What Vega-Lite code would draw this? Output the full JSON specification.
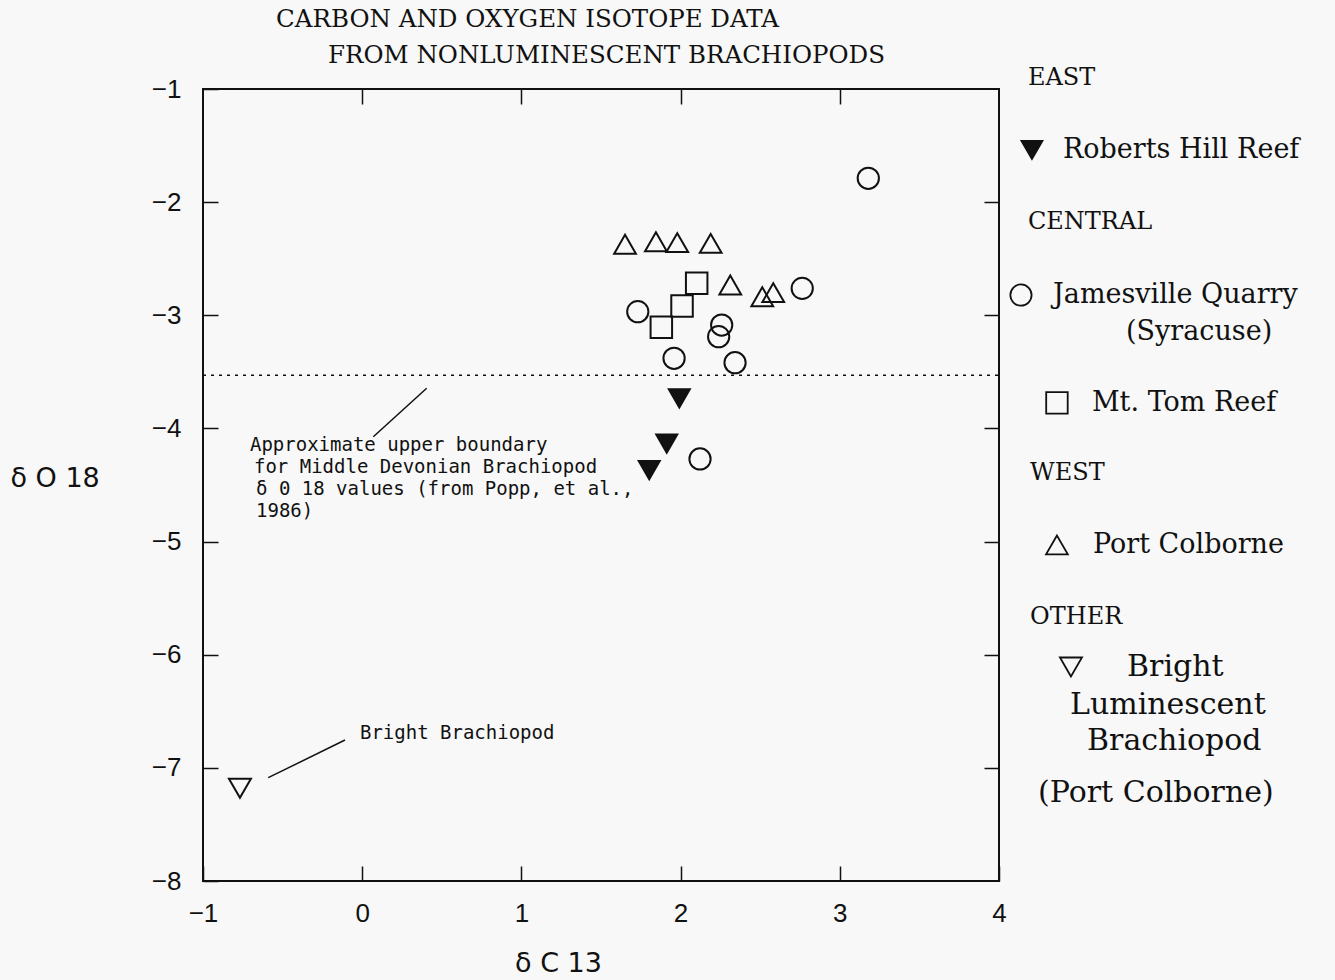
{
  "$schema": "https://vega.github.io/schema/vega-lite/v6.json",
  "width": 796,
  "height": 792,
  "autosize": {"type": "none"},
  "padding": {"left": 203, "top": 89, "right": 336, "bottom": 99},
  "background": "#f8f8f8",
  "config": {
    "view": {"stroke": "#111", "strokeWidth": 2},
    "axis": {"domain": false, "grid": false, "tickColor": "#111", "tickWidth": 1.5, "labelColor": "#111", "titleColor": "#111", "labelFont": "Liberation Sans", "labelFontSize": 26, "titleFont": "DejaVu Sans", "titleFontSize": 27, "titleFontWeight": "normal"}
  },
  "datasets": {
    "boundary": [{"x1": -1, "x2": 4, "y": -3.53}],
    "leaders": [
      {"x": 0.405, "y": -3.645, "x2": 0.07, "y2": -4.073},
      {"x": -0.108, "y": -6.754, "x2": -0.59, "y2": -7.087}
    ],
    "samples": [
      {"group": "Jamesville Quarry", "c13": 1.731, "o18": -2.968},
      {"group": "Jamesville Quarry", "c13": 2.764, "o18": -2.762},
      {"group": "Jamesville Quarry", "c13": 2.258, "o18": -3.086},
      {"group": "Jamesville Quarry", "c13": 2.239, "o18": -3.189},
      {"group": "Jamesville Quarry", "c13": 1.959, "o18": -3.38},
      {"group": "Jamesville Quarry", "c13": 2.342, "o18": -3.419},
      {"group": "Jamesville Quarry", "c13": 3.179, "o18": -1.789},
      {"group": "Jamesville Quarry", "c13": 2.122, "o18": -4.27},
      {"group": "Mt. Tom Reef", "c13": 2.101, "o18": -2.717},
      {"group": "Mt. Tom Reef", "c13": 2.009, "o18": -2.918},
      {"group": "Mt. Tom Reef", "c13": 1.879, "o18": -3.106},
      {"group": "Port Colborne", "c13": 1.651, "o18": -2.372},
      {"group": "Port Colborne", "c13": 1.845, "o18": -2.35},
      {"group": "Port Colborne", "c13": 1.979, "o18": -2.358},
      {"group": "Port Colborne", "c13": 2.189, "o18": -2.364},
      {"group": "Port Colborne", "c13": 2.312, "o18": -2.732},
      {"group": "Port Colborne", "c13": 2.513, "o18": -2.836},
      {"group": "Port Colborne", "c13": 2.582, "o18": -2.8},
      {"group": "Roberts Hill Reef", "c13": 1.992, "o18": -3.734},
      {"group": "Roberts Hill Reef", "c13": 1.913, "o18": -4.135},
      {"group": "Roberts Hill Reef", "c13": 1.803, "o18": -4.368},
      {"group": "Bright Luminescent Brachiopod", "c13": -0.768, "o18": -7.181}
    ],
    "keySymbols": [
      {"group": "Roberts Hill Reef", "x": 4.207, "y": -1.539},
      {"group": "Jamesville Quarry", "x": 4.138, "y": -2.821},
      {"group": "Mt. Tom Reef", "x": 4.364, "y": -3.775},
      {"group": "Port Colborne", "x": 4.364, "y": -5.03},
      {"group": "Bright Luminescent Brachiopod", "x": 4.452, "y": -6.109}
    ],
    "keyHeads": [
      {"label": "EAST", "x": 4.182, "y": -0.903},
      {"label": "CENTRAL", "x": 4.182, "y": -2.176},
      {"label": "WEST", "x": 4.195, "y": -4.394},
      {"label": "OTHER", "x": 4.195, "y": -5.667}
    ],
    "keyLabels": [
      {"label": "Roberts Hill Reef", "x": 4.402, "y": -1.539},
      {"label": "Jamesville Quarry", "x": 4.339, "y": -2.821},
      {"label": "(Syracuse)", "x": 4.798, "y": -3.148},
      {"label": "Mt. Tom Reef", "x": 4.584, "y": -3.775},
      {"label": "Port Colborne", "x": 4.59, "y": -5.03}
    ],
    "keyBig": [
      {"label": "Bright", "x": 4.804, "y": -6.109},
      {"label": "Luminescent", "x": 4.446, "y": -6.445},
      {"label": "Brachiopod", "x": 4.553, "y": -6.76},
      {"label": "(Port Colborne)", "x": 4.245, "y": -7.222}
    ],
    "titles": [
      {"label": "CARBON AND OXYGEN ISOTOPE DATA", "x": -0.541, "y": -0.39},
      {"label": "FROM NONLUMINESCENT BRACHIOPODS", "x": -0.215, "y": -0.708}
    ],
    "notes": [
      {"label": "Approximate upper boundary", "x": -0.705, "y": -4.146},
      {"label": "for Middle Devonian Brachiopod", "x": -0.68, "y": -4.341},
      {"label": "δ 0 18 values (from Popp, et al.,", "x": -0.667, "y": -4.535},
      {"label": "1986)", "x": -0.667, "y": -4.73},
      {"label": "Bright Brachiopod", "x": -0.014, "y": -6.692}
    ]
  },
  "resolve": {"axis": {"x": "independent", "y": "independent"}},
  "layer": [
    {
      "data": {"name": "boundary"},
      "mark": {"type": "rule", "strokeDash": [3, 5], "strokeWidth": 1.6, "color": "#111"},
      "encoding": {
        "x": {"field": "x1", "type": "quantitative",
          "scale": {"domain": [-1, 4], "nice": false, "zero": false},
          "axis": {"orient": "bottom", "values": [-1, 0, 1, 2, 3, 4], "tickSize": -15, "labelPadding": 34, "labelFlush": false,
            "title": "δ C 13", "titleX": 355, "titleY": 82, "titleAlign": "center", "titleBaseline": "middle"}},
        "x2": {"field": "x2"},
        "y": {"field": "y", "type": "quantitative",
          "scale": {"domain": [-8, -1], "nice": false, "zero": false},
          "axis": {"orient": "left", "values": [-1, -2, -3, -4, -5, -6, -7, -8], "tickSize": -15, "labelPadding": 37, "labelFlush": false,
            "title": "δ O 18", "titleAngle": 0, "titleX": -193, "titleY": 389, "titleAlign": "left", "titleBaseline": "middle"}}
      }
    },
    {
      "data": {"name": "leaders"},
      "mark": {"type": "rule", "strokeWidth": 1.5, "color": "#111"},
      "encoding": {
        "x": {"field": "x", "type": "quantitative",
          "axis": {"orient": "top", "values": [0, 1, 2, 3], "tickSize": -15, "labels": false, "title": null}},
        "y": {"field": "y", "type": "quantitative",
          "axis": {"orient": "right", "values": [-2, -3, -4, -5, -6, -7], "tickSize": -15, "labels": false, "title": null}},
        "x2": {"field": "x2"},
        "y2": {"field": "y2"}
      }
    },
    {
      "data": {"name": "samples"},
      "mark": {"type": "point", "filled": true, "opacity": 1, "stroke": "#111", "strokeWidth": 2},
      "encoding": {
        "x": {"field": "c13", "type": "quantitative", "axis": null},
        "y": {"field": "o18", "type": "quantitative", "axis": null},
        "shape": {"field": "group", "type": "nominal", "legend": null,
          "scale": {"domain": ["Roberts Hill Reef", "Jamesville Quarry", "Mt. Tom Reef", "Port Colborne", "Bright Luminescent Brachiopod"],
            "range": ["triangle-down", "circle", "square", "triangle-up", "triangle-down"]}},
        "fill": {"field": "group", "type": "nominal", "legend": null,
          "scale": {"domain": ["Roberts Hill Reef", "Jamesville Quarry", "Mt. Tom Reef", "Port Colborne", "Bright Luminescent Brachiopod"],
            "range": ["#111111", "transparent", "transparent", "transparent", "transparent"]}},
        "size": {"field": "group", "type": "nominal", "legend": null,
          "scale": {"domain": ["Roberts Hill Reef", "Jamesville Quarry", "Mt. Tom Reef", "Port Colborne", "Bright Luminescent Brachiopod"],
            "range": [440, 484, 324, 484, 484]}}
      }
    },
    {
      "data": {"name": "keySymbols"},
      "mark": {"type": "point", "filled": true, "opacity": 1, "stroke": "#111", "strokeWidth": 1.8},
      "encoding": {
        "x": {"field": "x", "type": "quantitative", "axis": null},
        "y": {"field": "y", "type": "quantitative", "axis": null},
        "shape": {"field": "group", "type": "nominal", "legend": null},
        "fill": {"field": "group", "type": "nominal", "legend": null},
        "size": {"field": "group", "type": "nominal", "legend": null}
      }
    },
    {
      "data": {"name": "keyHeads"},
      "mark": {"type": "text", "align": "left", "baseline": "middle", "font": "DejaVu Serif", "fontSize": 24, "color": "#111"},
      "encoding": {
        "x": {"field": "x", "type": "quantitative", "axis": null},
        "y": {"field": "y", "type": "quantitative", "axis": null},
        "text": {"field": "label"}
      }
    },
    {
      "data": {"name": "keyLabels"},
      "mark": {"type": "text", "align": "left", "baseline": "middle", "font": "DejaVu Serif", "fontSize": 27, "color": "#111"},
      "encoding": {
        "x": {"field": "x", "type": "quantitative", "axis": null},
        "y": {"field": "y", "type": "quantitative", "axis": null},
        "text": {"field": "label"}
      }
    },
    {
      "data": {"name": "keyBig"},
      "mark": {"type": "text", "align": "left", "baseline": "middle", "font": "DejaVu Serif", "fontSize": 30, "color": "#111"},
      "encoding": {
        "x": {"field": "x", "type": "quantitative", "axis": null},
        "y": {"field": "y", "type": "quantitative", "axis": null},
        "text": {"field": "label"}
      }
    },
    {
      "data": {"name": "titles"},
      "mark": {"type": "text", "align": "left", "baseline": "middle", "font": "DejaVu Serif", "fontSize": 24.5, "color": "#111"},
      "encoding": {
        "x": {"field": "x", "type": "quantitative", "axis": null},
        "y": {"field": "y", "type": "quantitative", "axis": null},
        "text": {"field": "label"}
      }
    },
    {
      "data": {"name": "notes"},
      "mark": {"type": "text", "align": "left", "baseline": "middle", "font": "DejaVu Sans Mono", "fontSize": 19, "color": "#111"},
      "encoding": {
        "x": {"field": "x", "type": "quantitative", "axis": null},
        "y": {"field": "y", "type": "quantitative", "axis": null},
        "text": {"field": "label"}
      }
    }
  ]
}
